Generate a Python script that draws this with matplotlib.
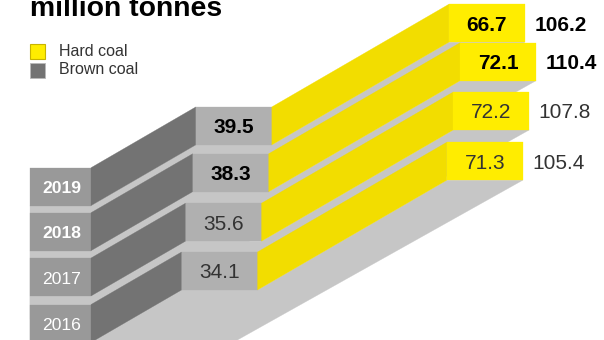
import matplotlib
matplotlib.use("Agg")
import matplotlib.pyplot as plt
from matplotlib.patches import Polygon, Rectangle

plt.rcParams['font.family'] = ['Liberation Sans', 'DejaVu Sans']

# Data (back row first)
years = ['2019', '2018', '2017', '2016']
brown_coal = [39.5, 38.3, 35.6, 34.1]
hard_coal = [66.7, 72.1, 72.2, 71.3]
totals = [106.2, 110.4, 107.8, 105.4]
bold_rows = [True, True, False, False]
title_text = 'million tonnes'
legend_labels = ['Hard coal', 'Brown coal']

# Layout / projection (pixel space)
W, H = 604, 340
PX_PER_UNIT = 2.655
SLOPE = 0.58
FLOOR_SLOPE = 0.56
FRONT_X0, FRONT_X1 = 30, 91
FACE_W = 76
BAR_H = 38
ROW_BASE = [205.7, 250.7, 296.0, 342.5]

YELLOW_FACE, YELLOW_SIDE = '#ffed00', '#f2dd00'
BROWN_FACE, BROWN_SIDE = '#b0b0b0', '#737373'
FRONT, FLOOR = '#999999', '#c6c6c6'

fig = plt.figure(figsize=(W / 100, H / 100), dpi=100)
ax = fig.add_axes([0, 0, 1, 1])
ax.set_xlim(0, W)
ax.set_ylim(H, 0)
ax.axis('off')


def poly(pts, color):
    ax.add_patch(Polygon(pts, closed=True, facecolor=color, edgecolor=color, linewidth=0.2))


for yr, b, h, tot, base, bold in zip(years, brown_coal, hard_coal, totals, ROW_BASE, bold_rows):
    dx_b = b * PX_PER_UNIT
    dx_h = h * PX_PER_UNIT
    # brown face position
    bx0 = FRONT_X1 + dx_b
    bx1 = bx0 + FACE_W
    by = base - dx_b * SLOPE
    # yellow face position
    hx0 = bx1 + dx_h
    hx1 = hx0 + FACE_W
    hy = by - dx_h * SLOPE
    # floor under the row, stopping at the left edge of the front block
    ext = hx1 - FRONT_X0
    poly([(FRONT_X0, base), (FRONT_X1, base), (bx0, by), (bx1, by), (hx0, hy), (hx1, hy),
          (FRONT_X0, hy + ext * FLOOR_SLOPE)], FLOOR)
    # front block
    poly([(FRONT_X0, base), (FRONT_X1, base), (FRONT_X1, base - BAR_H), (FRONT_X0, base - BAR_H)], FRONT)
    # brown side
    poly([(FRONT_X1, base), (bx0, by), (bx0, by - BAR_H), (FRONT_X1, base - BAR_H)], BROWN_SIDE)
    # brown face
    poly([(bx0, by), (bx1, by), (bx1, by - BAR_H), (bx0, by - BAR_H)], BROWN_FACE)
    # yellow side
    poly([(bx1, by), (hx0, hy), (hx0, hy - BAR_H), (bx1, by - BAR_H)], YELLOW_SIDE)
    # yellow face
    poly([(hx0, hy), (hx1, hy), (hx1, hy - BAR_H), (hx0, hy - BAR_H)], YELLOW_FACE)

    weight = 'bold' if bold else 'normal'
    col = '#000000' if bold else '#333333'
    ax.text((FRONT_X0 + FRONT_X1) / 2 + 1.5, base - BAR_H / 2 + 2, yr, ha='center', va='center',
            fontsize=12.6, color='white', fontweight=weight)
    ax.text((bx0 + bx1) / 2, by - BAR_H / 2 + 2, f'{b:.1f}', ha='center', va='center',
            fontsize=15, color=col, fontweight=weight)
    ax.text((hx0 + hx1) / 2, hy - BAR_H / 2 + 2, f'{h:.1f}', ha='center', va='center',
            fontsize=15, color=col, fontweight=weight)
    ax.text(hx1 + 9.5, hy - BAR_H / 2 + 2, f'{tot:.1f}', ha='left', va='center',
            fontsize=15, color=col, fontweight=weight)

# Title (cut by the top edge as in the reference)
ax.text(30, 16, title_text, ha='left', va='baseline', fontsize=20.4, fontweight='bold', color='black')

# Legend
ax.add_patch(Rectangle((29.5, 43.5), 15.5, 15.5, facecolor=YELLOW_FACE, edgecolor='#c8b400', linewidth=0.8))
ax.add_patch(Rectangle((29.5, 62.5), 15.5, 15.5, facecolor=BROWN_SIDE, edgecolor='#b8b8b8', linewidth=0.6))
ax.text(59, 51, legend_labels[0], ha='left', va='center', fontsize=11.5, color='#333333')
ax.text(59, 70, legend_labels[1], ha='left', va='center', fontsize=11.5, color='#333333')

fig.savefig('out.png', dpi=100)
